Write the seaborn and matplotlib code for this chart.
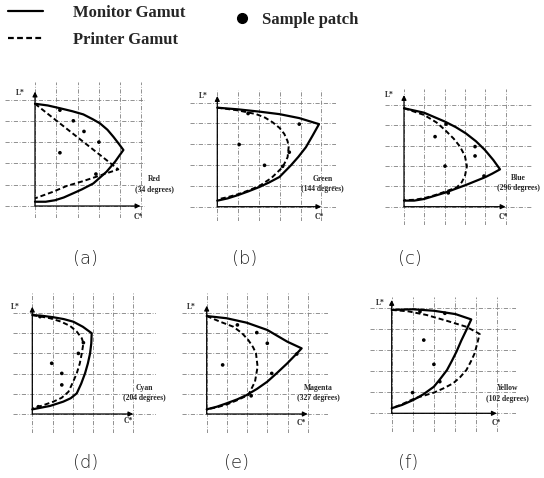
import matplotlib
matplotlib.use("Agg")
import matplotlib.pyplot as plt
from matplotlib.lines import Line2D
import seaborn as sns

# gamut boundaries and sample patches,
# in grid steps: (C*, L*)
red_monitor = [(0, 4.8), (0.6, 4.72), (1.17, 4.59), (1.75, 4.45), (2.27, 4.3), (2.7, 4.08),
               (3.05, 3.88), (3.4, 3.58), (3.68, 3.25), (3.95, 2.9), (4.15, 2.63), (3.95, 2.35),
               (3.76, 2.08), (3.36, 1.61), (2.74, 1.06), (2.2, 0.78), (1.8, 0.6), (1.35, 0.4),
               (0.94, 0.27), (0.5, 0.2), (0, 0.2)]
red_printer = [(0, 4.8), (3.91, 1.72), (3.4, 1.55), (2.9, 1.38), (2.2, 1.15), (1.49, 0.94),
               (0.8, 0.65), (0, 0.36)]
red_samples = [(1.17, 4.5), (1.8, 4.0), (2.3, 3.5), (3.0, 3.0), (1.17, 2.5), (2.86, 1.5)]

green_monitor = [(0, 4.76), (1.0, 4.68), (2.03, 4.57), (2.99, 4.45), (3.94, 4.26), (4.89, 3.97),
                 (4.6, 3.45), (4.26, 2.86), (3.9, 2.4), (3.54, 1.99), (2.99, 1.43), (2.5, 1.17),
                 (2.03, 0.95), (1.5, 0.74), (1.0, 0.56), (0.5, 0.4), (0, 0.29)]
green_printer = [(0, 4.76), (1.0, 4.63), (1.87, 4.45), (2.3, 4.28), (2.67, 4.05), (3.0, 3.78),
                 (3.22, 3.5), (3.38, 3.15), (3.43, 2.86), (3.38, 2.38), (3.14, 1.9), (2.6, 1.38),
                 (2.03, 1.0), (1.5, 0.78), (1.0, 0.6), (0.5, 0.46), (0, 0.35)]
green_samples = [(1.48, 4.48), (3.94, 3.97), (1.05, 2.99), (2.27, 1.99), (3.46, 2.62), (3.14, 1.94)]

blue_monitor = [(0, 4.85), (0.99, 4.63), (2.02, 4.19), (2.55, 3.92), (3.05, 3.61), (3.55, 3.22),
                (3.99, 2.79), (4.4, 2.3), (4.73, 1.84), (4.35, 1.63), (3.99, 1.45), (3.05, 1.07),
                (2.02, 0.69), (0.99, 0.38), (0.5, 0.3), (0, 0.3)]
blue_printer = [(0, 4.85), (0.99, 4.52), (1.6, 4.15), (2.02, 3.78), (2.45, 3.35), (2.76, 2.96),
                (3.0, 2.5), (3.1, 2.0), (3.0, 1.5), (2.84, 1.2), (2.6, 0.95), (2.02, 0.74),
                (1.5, 0.56), (0.99, 0.42), (0.5, 0.34), (0, 0.32)]
blue_samples = [(1.53, 3.45), (2.07, 4.07), (3.5, 2.96), (3.5, 2.5), (2.02, 2.0), (3.94, 1.51),
                (2.18, 0.68)]

cyan_monitor = [(0, 4.9), (0.5, 4.86), (1.04, 4.79), (1.55, 4.7), (2.03, 4.57), (2.5, 4.32),
                (2.94, 4.0), (2.92, 3.5), (2.86, 3.0), (2.75, 2.5), (2.61, 2.01), (2.42, 1.5),
                (2.2, 1.02), (1.9, 0.78), (1.53, 0.61), (0.88, 0.4), (0, 0.23)]
cyan_printer = [(0, 4.9), (0.88, 4.74), (1.4, 4.58), (1.87, 4.36), (2.2, 4.08), (2.45, 3.75),
                (2.53, 3.5), (2.45, 3.0), (2.35, 2.5), (2.2, 2.01), (2.0, 1.55), (1.79, 1.1),
                (1.45, 0.8), (1.04, 0.61), (0.5, 0.42), (0.05, 0.28)]
cyan_samples = [(0.38, 4.82), (2.53, 3.53), (2.28, 3.0), (0.96, 2.51), (1.46, 2.01), (1.46, 1.44),
                (0.3, 0.36)]

magenta_monitor = [(0, 4.85), (0.99, 4.74), (1.98, 4.52), (3.0, 4.16), (3.99, 3.58), (4.7, 3.25),
                   (4.35, 2.88), (3.99, 2.51), (3.5, 2.05), (3.0, 1.6), (2.5, 1.25), (1.98, 0.94),
                   (1.5, 0.72), (0.99, 0.53), (0.5, 0.36), (0, 0.23)]
magenta_printer = [(0, 4.85), (0.66, 4.57), (1.32, 4.32), (1.75, 4.0), (2.06, 3.66), (2.3, 3.3),
                   (2.44, 3.0), (2.52, 2.34), (2.39, 1.6), (2.06, 0.94), (1.5, 0.68), (0.99, 0.47),
                   (0.5, 0.33), (0, 0.23)]
magenta_samples = [(1.52, 4.41), (2.48, 4.03), (3.0, 3.5), (4.46, 2.97), (0.79, 2.43), (3.22, 2.01),
                   (2.2, 0.9)]

yellow_monitor = [(0, 4.9), (1.02, 4.93), (2.0, 4.86), (3.03, 4.7), (3.77, 4.45), (3.54, 3.95),
                  (3.3, 3.45), (3.07, 2.92), (2.85, 2.48), (2.62, 2.05), (2.3, 1.63), (2.0, 1.26),
                  (1.5, 0.9), (1.02, 0.63), (0.5, 0.4), (0, 0.24)]
yellow_printer = [(0, 4.9), (0.8, 4.83), (1.65, 4.66), (2.59, 4.39), (3.54, 4.1), (4.17, 3.76),
                  (4.05, 3.3), (3.93, 2.84), (3.75, 2.45), (3.54, 2.05), (3.25, 1.72), (2.91, 1.42),
                  (2.45, 1.18), (2.0, 0.98), (1.1, 0.71), (0.47, 0.42), (0, 0.24)]
yellow_samples = [(1.34, 4.82), (2.52, 4.74), (1.52, 3.47), (2.0, 2.32), (2.28, 1.5), (0.99, 0.98)]

hue_names = ["Red", "Green", "Blue", "Cyan", "Magenta", "Yellow"]
hue_angles = [34, 144, 296, 204, 327, 102]
captions = ["(a)", "(b)", "(c)", "(d)", "(e)", "(f)"]

monitors = [red_monitor, green_monitor, blue_monitor, cyan_monitor, magenta_monitor, yellow_monitor]
printers = [red_printer, green_printer, blue_printer, cyan_printer, magenta_printer, yellow_printer]
samples = [red_samples, green_samples, blue_samples, cyan_samples, magenta_samples, yellow_samples]

# layout (pixels): axis origin, px per grid step, grid extent, arrow ends,
# hue label pos, L* pos, C* pos, caption centre
W, H = 544, 478
layout = [
    dict(o=(35, 206), u=21.3, xl=(-1.4, 5.15), yl=(-0.55, 5.8), xe=4.95, ye=5.37,
         name=(5.6, 1.27), lpos=(-0.7, 5.3), cpos=(4.84, -0.5), cap=(85, 259)),
    dict(o=(217.3, 206.7), u=20.8, xl=(-1.3, 5.7), yl=(-0.7, 5.6), xe=5.0, ye=5.32,
         name=(5.05, 1.33), lpos=(-0.67, 5.32), cpos=(4.89, -0.5), cap=(245, 259)),
    dict(o=(404, 206.7), u=20.3, xl=(-0.95, 6.3), yl=(-0.9, 5.8), xe=5.0, ye=5.5,
         name=(5.65, 1.4), lpos=(-0.72, 5.5), cpos=(4.9, -0.5), cap=(410, 259)),
    dict(o=(32.3, 414), u=20.2, xl=(-0.95, 6.1), yl=(-0.95, 6.0), xe=5.0, ye=5.31,
         name=(5.55, 1.27), lpos=(-0.86, 5.31), cpos=(4.76, -0.35), cap=(86, 463)),
    dict(o=(206.7, 414), u=20.2, xl=(-1.2, 6.0), yl=(-0.95, 6.0), xe=5.0, ye=5.36,
         name=(5.55, 1.27), lpos=(-0.74, 5.31), cpos=(4.69, -0.46), cap=(236, 463)),
    dict(o=(391.7, 413.3), u=21.1, xl=(-1.05, 5.9), yl=(-0.9, 5.5), xe=4.98, ye=5.37,
         name=(5.5, 1.18), lpos=(-0.55, 5.24), cpos=(4.95, -0.47), cap=(408, 463)),
]

sns.set_theme(style="white")
plt.rcParams["font.family"] = ["DejaVu Sans"]
label_font = dict(family="Liberation Serif", weight="bold")
dash = (0, (2.6, 1.5))

fig = plt.figure(figsize=(W / 100, H / 100), dpi=100)

for i, lay in enumerate(layout):
    ox, oy = lay["o"]
    u = lay["u"]
    x0, x1 = lay["xl"]
    y0, y1 = lay["yl"]
    ax = fig.add_axes([(ox + x0 * u) / W, 1 - (oy - y0 * u) / H,
                       (x1 - x0) * u / W, (y1 - y0) * u / H])
    ax.set_xlim(x0, x1)
    ax.set_ylim(y0, y1)
    ax.set_xticks(range(6))
    ax.set_yticks(range(6))
    ax.grid(True, color="0.5", lw=0.6, linestyle=(0, (5, 2, 1, 2)))
    ax.tick_params(length=0, labelbottom=False, labelleft=False)
    for sp in ax.spines.values():
        sp.set_visible(False)

    mon, prn, smp = monitors[i], printers[i], samples[i]
    sns.lineplot(x=[p[0] for p in mon], y=[p[1] for p in mon], sort=False, estimator=None,
                 color="black", lw=1.6, ax=ax)
    sns.lineplot(x=[p[0] for p in prn], y=[p[1] for p in prn], sort=False, estimator=None,
                 color="black", lw=1.4, linestyle=dash, ax=ax)
    sns.scatterplot(x=[p[0] for p in smp], y=[p[1] for p in smp], color="black", s=7,
                    edgecolor="none", ax=ax)

    arrow = dict(arrowstyle="-|>", color="black", lw=0.9, mutation_scale=7, shrinkA=0, shrinkB=0)
    ax.annotate("", xy=(lay["xe"], 0), xytext=(0, 0), arrowprops=arrow)
    ax.annotate("", xy=(0, lay["ye"]), xytext=(0, 0), arrowprops=arrow)

    ax.text(*lay["lpos"], "L*", fontsize=5.5, ha="center", va="center", **label_font)
    ax.text(*lay["cpos"], "C*", fontsize=5.5, ha="center", va="center", **label_font)
    nx, ny = lay["name"]
    ax.text(nx, ny, hue_names[i], fontsize=5.5, ha="center", va="center", clip_on=False, **label_font)
    ax.text(nx, ny - 0.5, f"({hue_angles[i]} degrees)", fontsize=5.5, ha="center", va="center",
            clip_on=False, **label_font)

    cx, cy = lay["cap"]
    fig.text(cx / W, 1 - cy / H, captions[i], fontsize=13, ha="center", va="center",
             family="DejaVu Sans", weight="light")

# legend at the top
legend_font = dict(family="Liberation Serif", weight="bold", size=12)
line_handles = [Line2D([], [], color="black", lw=1.6),
                Line2D([], [], color="black", lw=1.6, linestyle=dash)]
fig.legend(line_handles, ["Monitor Gamut", "Printer Gamut"], loc="upper left",
           bbox_to_anchor=(3 / W, 1.0), frameon=False, borderaxespad=0, borderpad=0.3,
           handlelength=2.1, handletextpad=1.8, labelspacing=0.65, prop=legend_font)
dot_handle = [Line2D([], [], color="black", marker="o", markersize=7, lw=0)]
fig.legend(dot_handle, ["Sample patch"], loc="upper left", bbox_to_anchor=(230 / W, 1 - 7 / H),
           frameon=False, borderaxespad=0, borderpad=0.3, handlelength=0.8,
           handletextpad=0.85, prop=legend_font)

fig.savefig("out.png", dpi=100)
